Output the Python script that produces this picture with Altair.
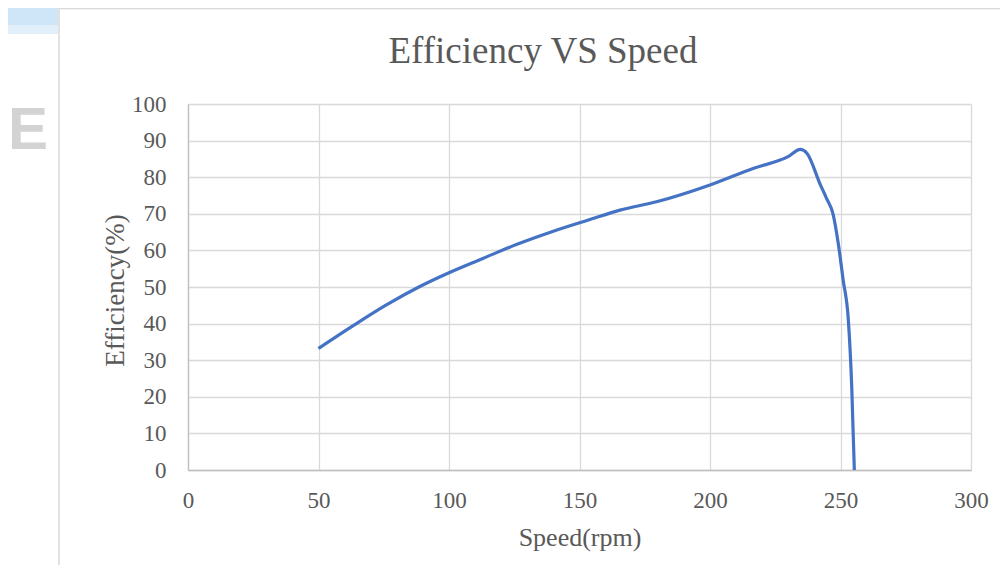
import altair as alt
import pandas as pd

# Data
speed = [50, 63, 76, 89, 100, 113, 125.8, 138.6, 153.4, 165.5, 179.5, 200,
         216.5, 229.9, 234.6, 237.2, 242.3, 244.6, 247.2, 249.1, 251, 253, 254.3, 255.3]
efficiency = [33.2, 39.3, 45.1, 50.2, 53.9, 57.8, 61.6, 64.9, 68.3, 71.0, 73.3, 77.9,
              82.4, 85.6, 87.6, 86.5, 77.9, 74.3, 69.8, 62.1, 52, 41, 22.8, 0]
x_ticks = [0, 50, 100, 150, 200, 250, 300]
y_ticks = [0, 10, 20, 30, 40, 50, 60, 70, 80, 90, 100]

title_text = "Efficiency VS Speed"
x_title = "Speed(rpm)"
y_title = "Efficiency(%)"

df = pd.DataFrame({"speed": speed, "eff": efficiency})

SERIF = "Liberation Serif"
GREY = "#595959"

line = alt.Chart(df).mark_line(
    color="#4472c4", strokeWidth=3.2, interpolate="monotone"
).encode(
    x=alt.X("speed:Q",
            scale=alt.Scale(domain=[0, 300], nice=False, zero=False),
            axis=alt.Axis(values=x_ticks, title=x_title,
                          labelFont=SERIF, labelFontSize=23, labelColor=GREY,
                          labelPadding=19, ticks=False, tickSize=0,
                          labelFlush=False, labelOverlap=False,
                          domainColor="#bfbfbf", domainWidth=1.3,
                          gridColor="#d9d9d9", gridWidth=1.3,
                          titleFont=SERIF, titleFontSize=26, titleFontWeight="normal",
                          titleColor=GREY, titleBaseline="alphabetic", titleY=75)),
    y=alt.Y("eff:Q",
            scale=alt.Scale(domain=[0, 100], nice=False),
            axis=alt.Axis(values=y_ticks, title=y_title,
                          labelFont=SERIF, labelFontSize=23, labelColor=GREY,
                          labelPadding=22, ticks=False, tickSize=0,
                          labelFlush=False, labelOverlap=False,
                          domainColor="#bfbfbf", domainWidth=1.3,
                          gridColor="#d9d9d9", gridWidth=1.3,
                          titleFont=SERIF, titleFontSize=27, titleFontWeight="normal",
                          titleColor=GREY, titleAngle=270, titleAlign="center",
                          titleBaseline="alphabetic", titleX=-65, titleY=186)),
)

one = alt.Data(values=[{}])

frame = alt.Chart(one).mark_rect(
    fill="transparent", stroke="#d9d9d9", strokeWidth=1.5, clip=False
).encode(x=alt.value(-129), x2=alt.value(900), y=alt.value(-95.5), y2=alt.value(600))

blue1 = alt.Chart(one).mark_rect(color="#cfe6f9", clip=False).encode(
    x=alt.value(-180), x2=alt.value(-130), y=alt.value(-96), y2=alt.value(-79))
blue2 = alt.Chart(one).mark_rect(color="#e1effb", clip=False).encode(
    x=alt.value(-180), x2=alt.value(-130), y=alt.value(-79), y2=alt.value(-70))

letter = alt.Chart(one).mark_text(
    text="E", font="Liberation Sans", fontWeight="bold", fontSize=60,
    color="#d3d3d3", align="left", baseline="alphabetic", clip=False
).encode(x=alt.value(-180), y=alt.value(45))

title = alt.Chart(one).mark_text(
    text=title_text, font=SERIF, fontSize=37, color=GREY,
    align="center", baseline="alphabetic", clip=False
).encode(x=alt.value(355), y=alt.value(-41))

chart = alt.layer(frame, blue1, blue2, letter, title, line).properties(
    width=783, height=366,
    autosize=alt.AutoSizeParams(type="none"),
    padding={"left": 180, "top": 96, "right": 29, "bottom": 95},
    background="white",
).configure_view(strokeWidth=0)

chart.save("out.html", embed_options={"renderer": "svg", "actions": False})
